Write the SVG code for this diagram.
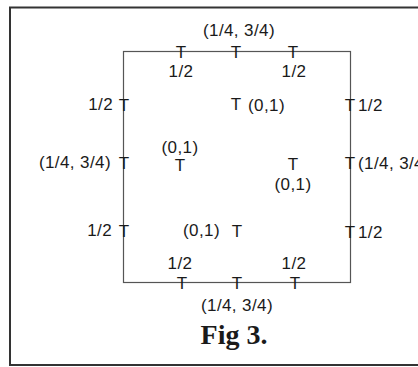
<svg xmlns="http://www.w3.org/2000/svg" width="418" height="367" viewBox="0 0 418 367">
<style>
.lbl{font-family:"Liberation Sans",Arial,sans-serif;font-size:17px;fill:#1a1a1a;letter-spacing:0.4px}
.t{font-family:"Liberation Sans",Arial,sans-serif;font-size:17px;fill:#1a1a1a;text-anchor:middle}
.m{text-anchor:middle}
.e{text-anchor:end}
.fig{font-family:"Liberation Serif","Times New Roman",serif;font-size:28px;font-weight:bold;fill:#1a1a1a;text-anchor:middle}
</style>
<rect width="418" height="367" fill="#fff"/>
<g id="frame">
<path d="M10,366 L10,7.5 L430,7.5 M10,365 L430,365" fill="none" stroke="#333" stroke-width="2"/>
</g>
<g id="square">
<rect x="123.5" y="51.5" width="227" height="231" fill="none" stroke="#555" stroke-width="1.2"/>
</g>
<g id="ticks">
<text class="t" x="181" y="58">T</text>
<text class="t" x="236" y="58">T</text>
<text class="t" x="293" y="58">T</text>
<text class="t" x="182" y="289">T</text>
<text class="t" x="237" y="289">T</text>
<text class="t" x="295" y="289">T</text>
<text class="t" x="124" y="111">T</text>
<text class="t" x="124" y="169">T</text>
<text class="t" x="124" y="237">T</text>
<text class="t" x="350" y="111">T</text>
<text class="t" x="350" y="169">T</text>
<text class="t" x="350" y="238">T</text>
<text class="t" x="236" y="110">T</text>
<text class="t" x="180" y="171">T</text>
<text class="t" x="293" y="170">T</text>
<text class="t" x="237" y="237">T</text>
</g>
<g id="labels">
<text class="lbl m" x="239" y="36">(1/4, 3/4)</text>
<text class="lbl m" x="181" y="77">1/2</text>
<text class="lbl m" x="294" y="77">1/2</text>
<text class="lbl" x="248" y="111">(0,1)</text>
<text class="lbl e" x="113" y="110">1/2</text>
<text class="lbl" x="358" y="111">1/2</text>
<text class="lbl e" x="111" y="168">(1/4, 3/4)</text>
<text class="lbl m" x="180" y="153">(0,1)</text>
<text class="lbl m" x="293" y="190">(0,1)</text>
<text class="lbl" x="358" y="169">(1/4, 3/4)</text>
<text class="lbl e" x="112" y="236">1/2</text>
<text class="lbl" x="183" y="236">(0,1)</text>
<text class="lbl" x="358" y="238">1/2</text>
<text class="lbl m" x="180" y="269">1/2</text>
<text class="lbl m" x="294" y="269">1/2</text>
<text class="lbl m" x="237" y="311">(1/4, 3/4)</text>
<text class="fig" x="234" y="344">Fig 3.</text>
</g>
</svg>
